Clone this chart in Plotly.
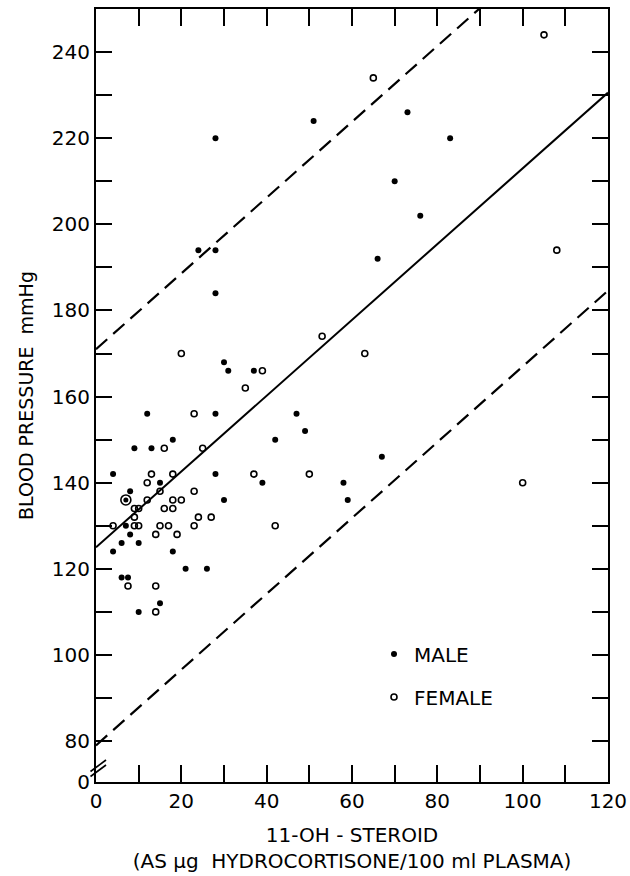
import plotly.graph_objects as go

# ---- data ----
male_x = [4, 4, 6, 6, 7.5, 7, 8, 8, 9, 10, 10, 12, 13, 15, 15, 18, 18, 21, 24, 26,
          28, 28, 28, 28, 28, 30, 30, 31, 37, 39, 42, 47, 49, 51, 58, 59, 66, 67, 70, 73, 76, 83]
male_y = [142, 124, 126, 118, 118, 130, 138, 128, 148, 126, 110, 156, 148, 140, 112, 150, 124, 120, 194, 120,
          220, 194, 184, 156, 142, 168, 136, 166, 166, 140, 150, 156, 152, 224, 140, 136, 192, 146, 210, 226, 202, 220]

female_x = [105, 65, 108, 53, 63, 20, 39, 35, 23, 16, 25, 4, 13, 18, 37, 50, 12, 15, 23, 12, 18, 20,
            9, 10, 16, 18, 9, 24, 27, 9, 10, 15, 17, 23, 42, 14, 19, 7.5, 14, 14, 100]
female_y = [244, 234, 194, 174, 170, 170, 166, 162, 156, 148, 148, 130, 142, 142, 142, 142, 140, 138, 138, 136, 136, 136,
            134, 134, 134, 134, 132, 132, 132, 130, 130, 130, 130, 130, 130, 128, 128, 116, 116, 110, 140]

# male and female coinciding (circled dot)
both_x = [7]
both_y = [136]

# regression line and limits: y = intercept + slope * x
slope = 0.88
intercept_mid = 125
intercept_upper = 171
intercept_lower = 79
line_x = [0, 120]

# ticks every 10, labels every 20
x_tickvals = [0, 10, 20, 30, 40, 50, 60, 70, 80, 90, 100, 110, 120]
x_ticktext = ["0", "", "20", "", "40", "", "60", "", "80", "", "100", "", "120"]
y_tickvals = [70.6, 80, 90, 100, 110, 120, 130, 140, 150, 160, 170, 180, 190, 200, 210, 220, 230, 240, 250]
y_ticktext = ["0", "80", "", "100", "", "120", "", "140", "", "160", "", "180", "", "200", "", "220", "", "240", ""]
x_range = [0, 120]
y_range = [70.5, 250]

FONT = "DejaVu Sans"

fig = go.Figure()


def line_y(b):
    return [b + slope * x for x in line_x]


# upper limit drawn on the top axis (same scale), lower limit on the right axis (same scale)
fig.add_trace(go.Scatter(x=line_x, y=line_y(intercept_upper), mode="lines", xaxis="x2", yaxis="y",
                         line=dict(color="black", width=2.2, dash="15px,8px"), showlegend=False))
fig.add_trace(go.Scatter(x=line_x, y=line_y(intercept_mid), mode="lines",
                         line=dict(color="black", width=2), showlegend=False))
fig.add_trace(go.Scatter(x=line_x, y=line_y(intercept_lower), mode="lines", xaxis="x", yaxis="y2",
                         line=dict(color="black", width=2.2, dash="15px,8px"), showlegend=False))

fig.add_trace(go.Scatter(x=male_x, y=male_y, mode="markers", name="MALE",
                         marker=dict(symbol="circle", size=6, color="black"), legend="legend"))
fig.add_trace(go.Scatter(x=female_x, y=female_y, mode="markers", name="FEMALE",
                         marker=dict(symbol="circle-open", size=6, color="black", line=dict(width=1.6)),
                         legend="legend2"))
fig.add_trace(go.Scatter(x=both_x, y=both_y, mode="markers", showlegend=False,
                         marker=dict(symbol="circle-open", size=10, color="black", line=dict(width=1.6))))
fig.add_trace(go.Scatter(x=both_x, y=both_y, mode="markers", showlegend=False,
                         marker=dict(symbol="circle", size=5, color="black")))

L, R, T, B = 96, 22, 9, 94
W, H = 630, 876
pw = W - L - R
ph = H - T - B


def px(xp):
    return (xp - L) / pw


def py(yp):
    return (H - B - yp) / ph


def axis_common():
    return dict(tickcolor="black", tickwidth=2, tickmode="array", ticks="inside",
                showline=True, linecolor="black", linewidth=2,
                showgrid=False, zeroline=False, automargin=False,
                tickfont=dict(family=FONT, size=20, color="black"))


fig.update_layout(
    template="none",
    width=W, height=H,
    margin=dict(l=L, r=R, t=T, b=B, autoexpand=False),
    paper_bgcolor="white", plot_bgcolor="white",
    font=dict(family=FONT, color="black"),
    xaxis=dict(range=x_range, tickvals=x_tickvals, ticktext=x_ticktext, ticklen=17,
               title=dict(text="11-OH - STEROID<br>(AS μg  HYDROCORTISONE/100 ml PLASMA)",
                          font=dict(family=FONT, size=20), standoff=16),
               **axis_common()),
    yaxis=dict(range=y_range, tickvals=y_tickvals, ticktext=y_ticktext, ticklen=16,
               title=dict(text="BLOOD PRESSURE  mmHg", font=dict(family=FONT, size=19), standoff=13),
               **axis_common()),
    # top and right axes carrying the mirrored inside ticks
    xaxis2=dict(range=x_range, tickvals=x_tickvals, ticklen=17, overlaying="x", side="top", anchor="y",
                showticklabels=False, **axis_common()),
    yaxis2=dict(range=y_range, tickvals=y_tickvals, ticklen=16, overlaying="y", side="right", anchor="x",
                showticklabels=False, **axis_common()),
    legend=dict(x=px(374), y=py(654), xanchor="left", yanchor="middle", bgcolor="rgba(0,0,0,0)",
                font=dict(family=FONT, size=20), itemwidth=30),
    legend2=dict(x=px(374), y=py(697), xanchor="left", yanchor="middle", bgcolor="rgba(0,0,0,0)",
                 font=dict(family=FONT, size=20), itemwidth=30),
    shapes=[
        dict(type="line", xref="paper", yref="paper", x0=px(90.5), y0=py(771.5), x1=px(106), y1=py(760),
             line=dict(color="black", width=1.6)),
        dict(type="line", xref="paper", yref="paper", x0=px(90.5), y0=py(776.5), x1=px(106), y1=py(765),
             line=dict(color="black", width=1.6)),
    ],
)

fig.write_html("out.html", config={"displayModeBar": False},
               post_script="document.body.style.margin='0px';")
